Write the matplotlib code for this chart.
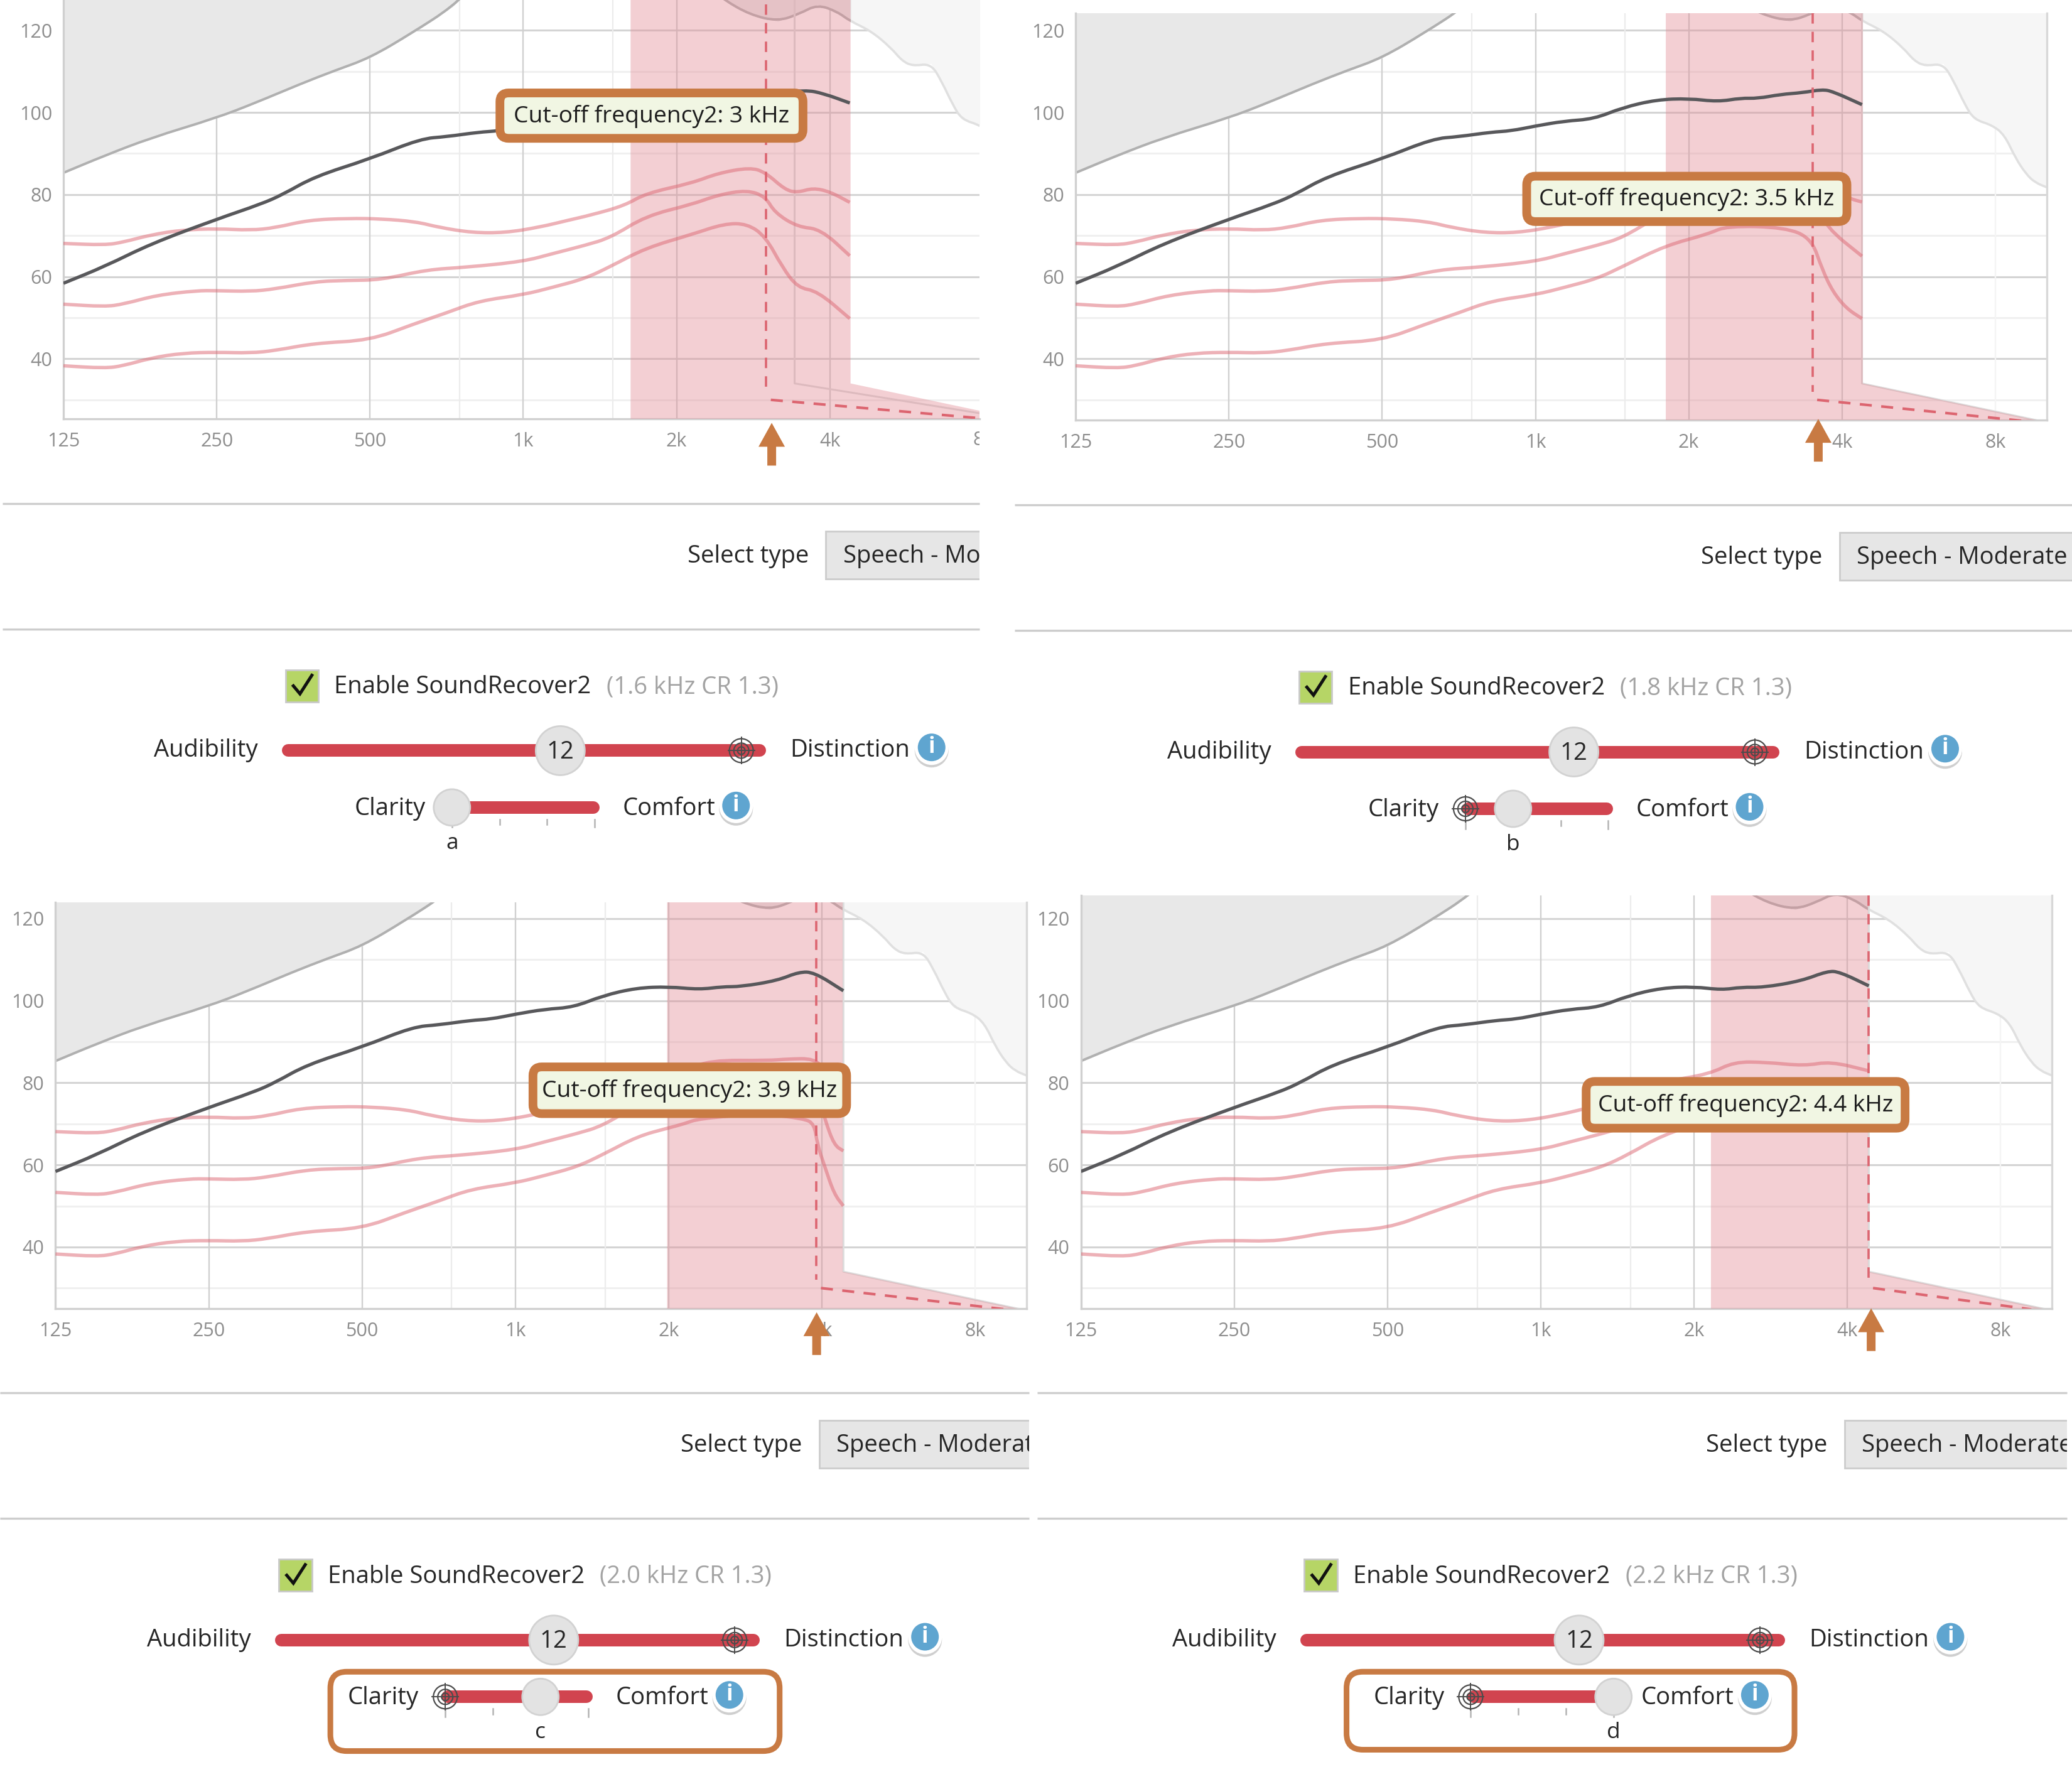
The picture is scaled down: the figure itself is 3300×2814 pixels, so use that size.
import numpy as np
import matplotlib
matplotlib.use("Agg")
import matplotlib.pyplot as plt
from matplotlib.patches import Circle, FancyBboxPatch, PathPatch, Polygon, Rectangle
from matplotlib.path import Path

plt.rcParams["font.family"] = ["Open Sans", "DejaVu Sans"]

# Curves are stored as octaves above 125 Hz and level in dB.
BASE_F = 125.0

OCT_BLACK = [0, .27, .57, 1, 1.29, 1.43, 1.64, 2, 2.33, 2.5, 2.71, 2.84, 3, 3.19, 3.38, 3.57, 3.79, 4.0]
DB_BLACK = [58.4, 62.5, 68, 74, 77.7, 80, 84.4, 88.7, 93.6, 94.1, 95.2, 95.5, 96.7, 97.9, 98.4, 101.2, 103.1, 103.4]
OCT_BLACK_A = [4.17, 4.34, 4.45, 4.6, 4.84, 4.96, 5.13]
DB_BLACK_A = [102.6, 103.4, 103.3, 104.3, 105.5, 104.6, 102.3]
OCT_BLACK_B = [4.19, 4.34, 4.45, 4.6, 4.74, 4.87, 4.94, 5.13]
DB_BLACK_B = [102.6, 103.5, 103.4, 104.4, 104.8, 105.6, 105.1, 101.9]
OCT_BLACK_C = [4.2, 4.35, 4.47, 4.71, 4.85, 4.95, 5.14]
DB_BLACK_C = [102.7, 103.4, 103.4, 104.9, 107, 106.9, 102.4]
OCT_BLACK_D = [4.18, 4.31, 4.45, 4.7, 4.87, 4.95, 5.14]
DB_BLACK_D = [102.6, 103.3, 103.2, 104.8, 107.2, 107, 103.6]

OCT_LOUD = [0, .27, .39, .57, .78, 1, 1.22, 1.38, 1.6, 1.86, 2.07, 2.3, 2.45, 2.67, 2.88, 3.1, 3.3, 3.44, 3.66]
DB_LOUD = [68.1, 67.7, 68.4, 70.2, 71.4, 71.7, 71.3, 71.9, 73.8, 74.2, 74.1, 73.4, 72, 70.7, 70.7, 72, 73.8, 75, 77.3]
OCT_LOUD_A = [3.8, 4.1, 4.27, 4.48, 4.58, 4.71, 4.79, 4.89, 5.0, 5.13]
DB_LOUD_A = [80.3, 82.8, 85.2, 86.6, 85.4, 81.1, 80.5, 81.6, 80.7, 78.1]
OCT_LOUD_B = [3.8, 4.1, 4.27, 4.6, 4.8, 4.9, 5.05, 5.13]
DB_LOUD_B = [80.3, 82.8, 84.5, 85, 84.5, 82, 79, 78.2]
OCT_LOUD_C = [3.8, 4.1, 4.27, 4.65, 4.78, 4.95, 5.02, 5.08, 5.14]
DB_LOUD_C = [80.3, 82.8, 85.5, 85.4, 85.8, 85.9, 83, 79.5, 78]
OCT_LOUD_D = [3.8, 4.1, 4.26, 4.47, 4.72, 4.89, 5.14]
DB_LOUD_D = [80.3, 82.1, 85.1, 85, 84.1, 85.2, 82.9]

OCT_MID = [0, .27, .39, .61, .87, 1, 1.22, 1.38, 1.64, 1.85, 2.07, 2.37, 2.63, 3, 3.19, 3.4, 3.57]
DB_MID = [53.3, 52.7, 53.3, 55.5, 56.6, 56.6, 56.4, 57, 58.8, 59.1, 59.2, 61.7, 62.3, 63.7, 65.6, 67.6, 69.5]
OCT_MID_A = [3.8, 4.1, 4.27, 4.46, 4.58, 4.64, 4.79, 4.94, 5.13]
DB_MID_A = [74.8, 77.6, 79.9, 81.1, 79.5, 75.6, 72.1, 71.6, 65.1]
OCT_MID_B = [3.8, 4.1, 4.27, 4.6, 4.8, 4.9, 5.13]
DB_MID_B = [74.8, 77.6, 79.9, 81, 79.5, 71.9, 65]
OCT_MID_C = [3.8, 4.1, 4.27, 4.65, 4.95, 5.02, 5.08, 5.14]
DB_MID_C = [74.8, 77.6, 79.9, 81, 80, 71, 64.8, 63.4]
OCT_MID_D = [3.8, 4.1, 4.3, 4.8, 5.14]
DB_MID_D = [74.8, 77.6, 80, 80, 78]

OCT_SOFT = [0, .27, .39, .57, .78, 1, 1.22, 1.38, 1.64, 2, 2.28, 2.5, 2.71, 3, 3.19, 3.4, 3.57]
DB_SOFT = [38.3, 37.7, 38.3, 40.2, 41.4, 41.6, 41.4, 42, 43.8, 44.5, 48.4, 51.2, 54.1, 55.6, 57.4, 59.5, 62.5]
OCT_SOFT_A = [3.8, 4.1, 4.31, 4.46, 4.58, 4.69, 4.79, 4.92, 5.13]
DB_SOFT_A = [67, 70.3, 72.9, 72.9, 69.8, 62.3, 57.3, 56.5, 49.8]
OCT_SOFT_B = [3.85, 4.12, 4.25, 4.63, 4.8, 4.87, 4.94, 5.03, 5.13]
DB_SOFT_B = [67.6, 70.3, 72.4, 72, 69.3, 61.8, 56.3, 52.2, 49.8]
OCT_SOFT_C = [3.8, 4.0, 4.1, 4.2, 4.6, 4.88, 4.95, 4.97, 5.02, 5.08, 5.14]
DB_SOFT_C = [67, 69, 70, 71.3, 72.5, 71.3, 70, 65, 59.4, 52.9, 50]
OCT_SOFT_D = [3.79, 4.1, 4.5, 5.14]
DB_SOFT_D = [67.2, 71, 72.5, 70]

# Discomfort limit; the middle stretch runs above the top of the plot.
OCT_LIMIT = [0, .27, .57, 1, 1.25, 1.55, 1.77, 2, 2.28, 2.54, 2.7, 4.15, 4.31, 4.48, 4.66, 4.8, 4.92, 5.05, 5.13,
             5.27, 5.4, 5.47, 5.54, 5.66, 5.73, 5.8, 5.86, 5.98, 6.06, 6.13, 6.2, 6.26, 6.34]
DB_LIMIT = [85.3, 89.5, 93.8, 98.7, 102.3, 107, 110.2, 113.3, 119.5, 125.8, 132, 132, 127.4, 123.8, 122.2, 124,
            126.3, 124.5, 122.3, 119.8, 115.7, 112.6, 111.3, 111.9, 107.5, 102, 98.3, 96.9, 94.5, 89, 85, 82.9, 81.7]

CUTOFF_KHZ = [3, 3.5, 3.9, 4.4]
START_KHZ = [1.6, 1.8, 2.0, 2.2]
BAND_START_OCT = [3.70, 3.85, 3.99, 4.11]
BAND_END_OCT = 5.135
SHELF_DB = 34
FLOOR_DB = 24.8
DASH_KNEE_DB = 30

CLARITY_STOP = [0, 1, 2, 3]
PANEL_LETTERS = ["a", "b", "c", "d"]
AUDIBILITY_VALUE = "12"
MAJOR_DB = [40, 60, 80, 100, 120]
MINOR_DB = [30, 50, 70, 90, 110]
OCT_TICKS = [0, 1, 2, 3, 4, 5, 6]
OCT_LABELS = ["125", "250", "500", "1k", "2k", "4k", "8k"]
MINOR_F = [750, 1500]

BLACK = [(OCT_BLACK_A, DB_BLACK_A), (OCT_BLACK_B, DB_BLACK_B), (OCT_BLACK_C, DB_BLACK_C), (OCT_BLACK_D, DB_BLACK_D)]
LOUD = [(OCT_LOUD_A, DB_LOUD_A), (OCT_LOUD_B, DB_LOUD_B), (OCT_LOUD_C, DB_LOUD_C), (OCT_LOUD_D, DB_LOUD_D)]
MID = [(OCT_MID_A, DB_MID_A), (OCT_MID_B, DB_MID_B), (OCT_MID_C, DB_MID_C), (OCT_MID_D, DB_MID_D)]
SOFT = [(OCT_SOFT_A, DB_SOFT_A), (OCT_SOFT_B, DB_SOFT_B), (OCT_SOFT_C, DB_SOFT_C), (OCT_SOFT_D, DB_SOFT_D)]

# Layout, measured on a 1568-wide grid and scaled up to the output size.
S = 3300 / 1568
W, H = 3300, 2814
PX_OCT = 116.0
PX_DB = 3.107
PLOT_X0 = [48, 814, 42, 818]
PLOT_X1 = [741, 1549, 777, 1553]
PLOT_TOP = [0, 10, 682.6, 677.7]
PLOT_BOTTOM = [317, 318, 990.3, 990.3]
Y_OF_40 = [271.5, 271.5, 943.6, 943.6]
WIDGET_DX = [0, 767, -5, 771]
WIDGET_DY = [0, 1, 673, 673]
CLIP_RIGHT = [741, 1568, 779, 1564]
SEP_LEFT = [2, 768, 0, 785]
CALLOUT = [(375, 67, 611, 108), (1152, 130, 1401, 171), (400, 804, 644, 846), (1197, 815, 1445, 857)]
ARROW = [(584, 320), (1376, 317), (618, 993), (1416, 990)]
CLARITY_FRAME = [None, None, (250, 1265, 590, 1325), (1019, 1265, 1358, 1324)]
GRAY_EDGE_OCT = [4.77, 5.13, 5.14, 5.14]

ORANGE = "#c87a43"
SLIDER = "#d1444f"
TEXT = "#262626"
TICK_TEXT = "#8e8e8e"
FS = 27.5
CALLOUT_FS = 26.8
TICK_FS = 22

fig = plt.figure(figsize=(33, 28.14), dpi=100, facecolor="white")
ui = fig.add_axes([0, 0, 1, 1], zorder=10)
ui.set_xlim(0, W)
ui.set_ylim(H, 0)
ui.axis("off")
ui.patch.set_alpha(0)


def hz(octaves):
    return BASE_F * 2.0 ** np.asarray(octaves, dtype=float)


def oct_of_khz(khz):
    return float(np.log2(khz * 1000 / BASE_F))


def rounded_curve(octs, dbs):
    """Path through the given readings with its corners rounded off."""
    o = np.asarray(octs, dtype=float)
    d = np.asarray(dbs, dtype=float)
    mo, md = (o[:-1] + o[1:]) / 2, (d[:-1] + d[1:]) / 2
    verts = [(o[0], d[0]), (mo[0], md[0])]
    codes = [Path.MOVETO, Path.LINETO]
    for k in range(1, len(o) - 1):
        verts += [(o[k], d[k]), (mo[k], md[k])]
        codes += [Path.CURVE3, Path.CURVE3]
    verts.append((o[-1], d[-1]))
    codes.append(Path.LINETO)
    verts = np.array(verts)
    verts[:, 0] = hz(verts[:, 0])
    return Path(verts, codes)


def draw_curve(ax, octs, dbs, **kw):
    patch = PathPatch(rounded_curve(octs, dbs), fill=False, capstyle="butt", joinstyle="round", **kw)
    ax.add_patch(patch)
    return patch


def draw_plot(i):
    x0, x1 = PLOT_X0[i] * S, PLOT_X1[i] * S
    top, bottom = PLOT_TOP[i] * S, PLOT_BOTTOM[i] * S
    ax = fig.add_axes([x0 / W, 1 - bottom / H, (x1 - x0) / W, (bottom - top) / H], zorder=1)
    ax.set_xscale("log", base=2)
    xmax = (PLOT_X1[i] - PLOT_X0[i]) / PX_OCT
    ymin = 40 - (PLOT_BOTTOM[i] - Y_OF_40[i]) / PX_DB
    ymax = 40 + (Y_OF_40[i] - PLOT_TOP[i]) / PX_DB
    in_view = [k for k, t in enumerate(OCT_TICKS) if t <= xmax]
    ax.set_xticks(hz([OCT_TICKS[k] for k in in_view]), [OCT_LABELS[k] for k in in_view])
    ax.set_yticks(MAJOR_DB, [str(v) for v in MAJOR_DB])
    ax.minorticks_off()
    ax.set_xlim(BASE_F, hz(xmax))
    ax.set_ylim(ymin, ymax)
    ax.tick_params(length=0, labelsize=TICK_FS, labelcolor=TICK_TEXT, pad=13)
    ax.xaxis.set_tick_params(pad=15)
    for spine in ("top", "right"):
        ax.spines[spine].set_visible(False)
    for spine in ("left", "bottom"):
        ax.spines[spine].set_color("#d0d0d0")
        ax.spines[spine].set_linewidth(2.4)
    if i != 0:
        ax.spines["right"].set_visible(True)
        ax.spines["right"].set_color("#d8d8d8")
        ax.spines["right"].set_linewidth(2.4)

    for v in MAJOR_DB:
        ax.axhline(v, color="#d4d4d4", lw=2.2, zorder=1)
    for v in MINOR_DB:
        ax.axhline(v, color="#f0f0f0", lw=2.2, zorder=1)
    for t in OCT_TICKS[1:6]:
        ax.axvline(hz(t), color="#d0d0d0", lw=1.7, zorder=1)
    ax.axvline(hz(6), color="#f4f4f4", lw=1.7, zorder=1)
    for f in MINOR_F:
        ax.axvline(f, color="#ececec", lw=1.6, zorder=1)

    # Labels past a cropped right edge are cut off with the panel.
    clip = Rectangle((0, 0), CLIP_RIGHT[i] * S, H, transform=ui.transData)
    for k, t in enumerate(OCT_TICKS):
        if t > xmax:
            lab = ui.text((PLOT_X0[i] + t * PX_OCT) * S, (PLOT_BOTTOM[i] + 16) * S, OCT_LABELS[k],
                          fontsize=TICK_FS, color=TICK_TEXT, ha="center", va="center")
            lab.set_clip_on(True)
            lab.set_clip_path(clip)

    # Limit curve: the region left of the upper edge is darker than the rest.
    edge = hz(BAND_END_OCT)
    f_lim = hz(OCT_LIMIT)
    left_part = Rectangle((BASE_F, ymin), edge - BASE_F, ymax - ymin, transform=ax.transData)
    ax.fill_between(f_lim, DB_LIMIT, 140, color="#f6f6f6", lw=0, zorder=2)
    near = ax.fill_between(f_lim, DB_LIMIT, 140, color="#e8e8e8", lw=0, zorder=2.1)
    near.set_clip_path(left_part)
    draw_curve(ax, OCT_LIMIT, DB_LIMIT, edgecolor="#e0e0e0", lw=2.6, zorder=2.2)
    dark = draw_curve(ax, OCT_LIMIT, DB_LIMIT, edgecolor="#b0b0b0", lw=2.8, zorder=2.3)
    dark.set_clip_path(left_part)

    # Lower boundary of the audible range on the right-hand side.
    g = GRAY_EDGE_OCT[i]
    ax.plot(hz([g, g, 6.3]), [ymax, SHELF_DB, FLOOR_DB], color="#dcdcdc", lw=2.2, zorder=2.4)

    # Compressed band with its sloped foot.
    lo = BAND_START_OCT[i]
    hi = BAND_END_OCT
    band = [(hz(lo), ymin), (hz(lo), 140), (hz(hi), 140), (hz(hi), SHELF_DB), (hz(6.3), FLOOR_DB), (hz(6.3), ymin)]
    ax.add_patch(Polygon(band, closed=True, facecolor="#e18993", alpha=0.4, lw=0, zorder=3))

    # Speech curves.
    for base_o, base_d, tails in ((OCT_LOUD, DB_LOUD, LOUD), (OCT_MID, DB_MID, MID), (OCT_SOFT, DB_SOFT, SOFT)):
        draw_curve(ax, base_o + tails[i][0], base_d + tails[i][1], edgecolor="#dd6a75", alpha=0.52, lw=3.9, zorder=4)
    draw_curve(ax, OCT_BLACK + BLACK[i][0], DB_BLACK + BLACK[i][1], edgecolor="#58585b", lw=3.8, zorder=5)

    # Cut-off marker.
    c = oct_of_khz(CUTOFF_KHZ[i])
    ax.plot(hz([c, c]), [ymax - 1 if i == 0 else ymax, 32], color="#dc6570", lw=2.6, dashes=(4.6, 3.6), zorder=6)
    ax.plot(hz([c + .03, 6.2]), [DASH_KNEE_DB, FLOOR_DB], color="#dc6570", lw=3.0, dashes=(4.6, 3.6), zorder=6)


def rounded(x0, y0, x1, y1, r, **kw):
    ui.add_patch(FancyBboxPatch((x0 + r, y0 + r), x1 - x0 - 2 * r, y1 - y0 - 2 * r,
                                boxstyle=f"round,pad={r},rounding_size={r}", **kw))


def target(x, y):
    for r, lw in ((19, 1.6), (12, 1.6), (6, 1.6)):
        ui.add_patch(Circle((x, y), r, fill=False, ec="#4c4c4c", lw=lw, zorder=4))
    ui.plot([x - 21, x + 21], [y, y], color="#4c4c4c", lw=1.4, zorder=4)
    ui.plot([x, x], [y - 21, y + 21], color="#4c4c4c", lw=1.4, zorder=4)


def info(x, y):
    ui.add_patch(Circle((x, y + 4), 27, fc="#cfcfcf", ec="none", zorder=3))
    ui.add_patch(Circle((x, y), 27, fc="white", ec="none", zorder=3.1))
    ui.add_patch(Circle((x, y - 1), 22, fc="#5fa5d0", ec="none", zorder=3.2))
    ui.text(x, y - 1, "i", color="white", fontsize=25, fontweight="bold", ha="center", va="center", zorder=3.3)


def draw_controls(i):
    dx, dy = WIDGET_DX[i], WIDGET_DY[i]

    def X(v):
        return (v + dx) * S

    def Y(v):
        return (v + dy) * S

    clip = Rectangle((0, 0), CLIP_RIGHT[i] * S, H, transform=ui.transData)
    sep_l, sep_r = SEP_LEFT[i] * S, CLIP_RIGHT[i] * S
    for y in (381, 476):
        ui.plot([sep_l, sep_r], [Y(y), Y(y)], color="#cdcdcd", lw=2.4, solid_capstyle="butt")

    # Signal-type selector.
    ui.text(X(612), Y(421), "Select type", fontsize=FS, color=TEXT, ha="right", va="center")
    box = Rectangle((X(625), Y(402)), 900, 36 * S, fc="#e6e6e6", ec="#cccccc", lw=2)
    ui.add_patch(box)
    box.set_clip_path(clip)
    t = ui.text(X(638), Y(421), "Speech - Moderate", fontsize=FS, color=TEXT, ha="left", va="center")
    t.set_clip_on(True)
    t.set_clip_path(clip)

    # Feature toggle and its summary.
    ui.add_patch(Rectangle((X(216), Y(507)), 25 * S, 24 * S, fc="#b6d566", ec="#c9c9c9", lw=2))
    ui.plot([X(222), X(227), X(236)], [Y(519), Y(525), Y(511)], color="#111111", lw=3.6,
            solid_joinstyle="miter")
    ui.text(X(253), Y(520), "Enable SoundRecover2", fontsize=FS, color=TEXT, ha="left", va="center")
    ui.text(X(459), Y(520), f"({START_KHZ[i]:.1f} kHz CR 1.3)", fontsize=FS, color="#a3a3a3", ha="left",
            va="center")

    # Audibility / Distinction slider.
    ui.text(X(195), Y(568), "Audibility", fontsize=FS, color=TEXT, ha="right", va="center")
    ui.plot([X(218), X(575)], [Y(568), Y(568)], color=SLIDER, lw=14.4, solid_capstyle="round", zorder=2)
    target(X(561), Y(568))
    ui.add_patch(Circle((X(424), Y(568)), 39, fc="#e3e3e3", ec="#d2d2d2", lw=2, zorder=5))
    ui.text(X(424), Y(569), AUDIBILITY_VALUE, fontsize=FS, color=TEXT, ha="center", va="center", zorder=6)
    ui.text(X(598), Y(568), "Distinction", fontsize=FS, color=TEXT, ha="left", va="center")
    info(X(705), Y(566))

    # Clarity / Comfort slider with its four stops.
    stops = [342 + 36 * s for s in CLARITY_STOP]
    knob = stops[i]
    ui.text(X(322), Y(612), "Clarity", fontsize=FS, color=TEXT, ha="right", va="center")
    ui.plot([X(344), X(449)], [Y(611), Y(611)], color=SLIDER, lw=14.4, solid_capstyle="round", zorder=2)
    for s in stops:
        ui.plot([X(s), X(s)], [Y(620), Y(626 if s != stops[1] and s != stops[2] else 624)],
                color="#b4b4b4", lw=1.8, zorder=1)
    if i > 0:
        target(X(stops[0]), Y(611))
    ui.add_patch(Circle((X(knob), Y(611)), 29, fc="#e3e3e3", ec="#d2d2d2", lw=2, zorder=5))
    ui.text(X(knob), Y(638), PANEL_LETTERS[i], fontsize=FS - 2, color=TEXT, ha="center", va="center")
    ui.text(X(471), Y(612), "Comfort", fontsize=FS, color=TEXT, ha="left", va="center")
    info(X(557), Y(610))


def draw_annotations(i):
    x0, y0, x1, y1 = CALLOUT[i]
    rounded(x0 * S + 7, y0 * S + 7, x1 * S - 7, y1 * S - 7, 14, fc="#f1f6e3", ec=ORANGE, lw=10, zorder=8)
    ui.text((x0 + x1) / 2 * S, (y0 + y1) / 2 * S + 1, f"Cut-off frequency2: {CUTOFF_KHZ[i]:g} kHz",
            fontsize=CALLOUT_FS, color="#1d1d1d", ha="center", va="center", zorder=9)
    ax_, ay_ = ARROW[i]
    ax_, ay_ = ax_ * S, ay_ * S
    ui.add_patch(Polygon([(ax_, ay_), (ax_ + 21, ay_ + 38), (ax_ + 7, ay_ + 38), (ax_ + 7, ay_ + 68),
                          (ax_ - 7, ay_ + 68), (ax_ - 7, ay_ + 38), (ax_ - 21, ay_ + 38)],
                         closed=True, fc=ORANGE, ec="none", zorder=9))
    if CLARITY_FRAME[i] is not None:
        fx0, fy0, fx1, fy1 = CLARITY_FRAME[i]
        rounded(fx0 * S, fy0 * S, fx1 * S, fy1 * S, 26, fc="none", ec=ORANGE, lw=6.5, zorder=8)


for panel in range(4):
    draw_plot(panel)
    draw_controls(panel)
    draw_annotations(panel)

fig.savefig("out.png", dpi=100, facecolor="white")
